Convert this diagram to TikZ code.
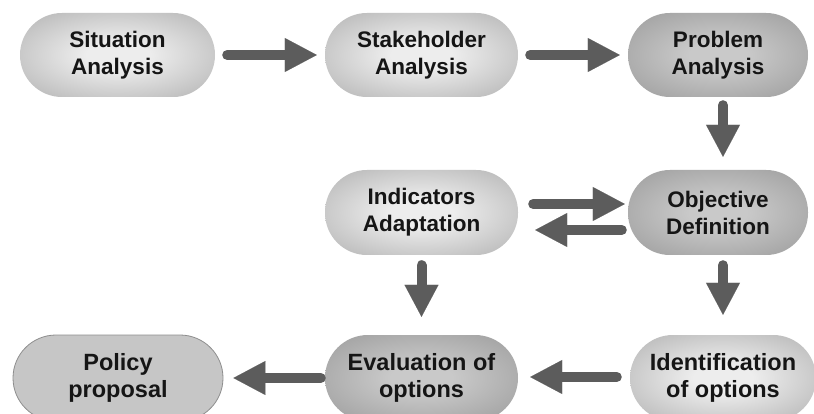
\documentclass[tikz,border=0pt]{standalone}
\usepackage{fontspec}
\setmainfont{Liberation Sans}
\usetikzlibrary{arrows.meta}
\definecolor{lc}{HTML}{EDEDED}
\definecolor{le}{HTML}{959595}
\definecolor{dc}{HTML}{C9C9C9}
\definecolor{de}{HTML}{858585}
\definecolor{pfill}{HTML}{C6C6C6}
\definecolor{pline}{HTML}{8E8E8E}
\definecolor{arrowgray}{HTML}{5C5C5C}
\definecolor{txt}{HTML}{151515}
\pgfdeclareradialshading{pilllight}{\pgfpoint{0bp}{0bp}}{color(0bp)=(lc); color(8bp)=(lc); color(50bp)=(le); color(75bp)=(le)}
\pgfdeclareradialshading{pilldark}{\pgfpoint{0bp}{0bp}}{color(0bp)=(dc); color(8bp)=(dc); color(50bp)=(de); color(75bp)=(de)}
\tikzset{
  pill/.style={rectangle, rounded corners=42pt, minimum height=84pt, align=center,
    font=\fontsize{22.5}{27}\selectfont\bfseries, text=txt, inner sep=0pt},
  pillbot/.style={pill, rounded corners=43pt, minimum height=86pt,
    font=\fontsize{23.5}{27}\selectfont\bfseries},
  lightshade/.style={shading=pilllight},
  darkshade/.style={shading=pilldark},
  flatfill/.style={fill=pfill, draw=pline, line width=0.8pt},
  arr/.style={draw=arrowgray, line width=10pt, line cap=round,
    -{Triangle[length=32pt,width=34pt,line width=0.1pt]}},
}
\begin{document}
\begin{tikzpicture}[x=1pt,y=-1pt]
\useasboundingbox (0,0) rectangle (814,414);
\clip (0,0) rectangle (814,414);
\fill[white] (0,0) rectangle (814,414);
% top row
\node[pill, lightshade, minimum width=195pt] (sit) at (117.5,55) {Situation\\Analysis};
\node[pill, lightshade, minimum width=193pt] (stk) at (421.5,55) {Stakeholder\\Analysis};
\node[pill, darkshade, minimum width=180pt] (prb) at (718,55) {Problem\\Analysis};
% middle row
\node[pill, lightshade, minimum width=193pt, minimum height=85pt] (ind) at (421.5,212.5) {Indicators\\Adaptation};
\node[pill, darkshade, minimum width=180pt, minimum height=85pt] (obj) at (718,212.5) {Objective\\Definition};
% bottom row
\node[pillbot, flatfill, minimum width=210pt] (pol) at (118,378) {Policy\\proposal};
\node[pillbot, darkshade, minimum width=193pt] (eva) at (421.5,378) {Evaluation of\\options};
\node[pillbot, lightshade, minimum width=186pt] (idf) at (723,378) {Identification\\of options};
% arrows
\draw[arr] ([xshift=12pt]sit.east) -- ([xshift=-8pt]stk.west);
\draw[arr] ([xshift=12pt]stk.east) -- ([xshift=-8pt]prb.west);
\draw[arr] ([xshift=5pt,yshift=-8pt]prb.south) -- ([xshift=5pt,yshift=13pt]obj.north);
\draw[arr] ([xshift=15pt,yshift=8.5pt]ind.east) -- ([xshift=-3pt,yshift=8.5pt]obj.west);
\draw[arr] ([xshift=-6pt,yshift=-17.5pt]obj.west) -- ([xshift=17pt,yshift=-17.5pt]ind.east);
\draw[arr] ([yshift=-10pt]ind.south) -- ([yshift=18pt]eva.north);
\draw[arr] ([xshift=5pt,yshift=-10pt]obj.south) -- ([xshift=0pt,yshift=20pt]idf.north);
\draw[arr] ([xshift=-13pt,yshift=1pt]idf.west) -- ([xshift=12pt,yshift=1pt]eva.east);
\draw[arr] ([xshift=-4pt]eva.west) -- ([xshift=10pt]pol.east);
\end{tikzpicture}
\end{document}
